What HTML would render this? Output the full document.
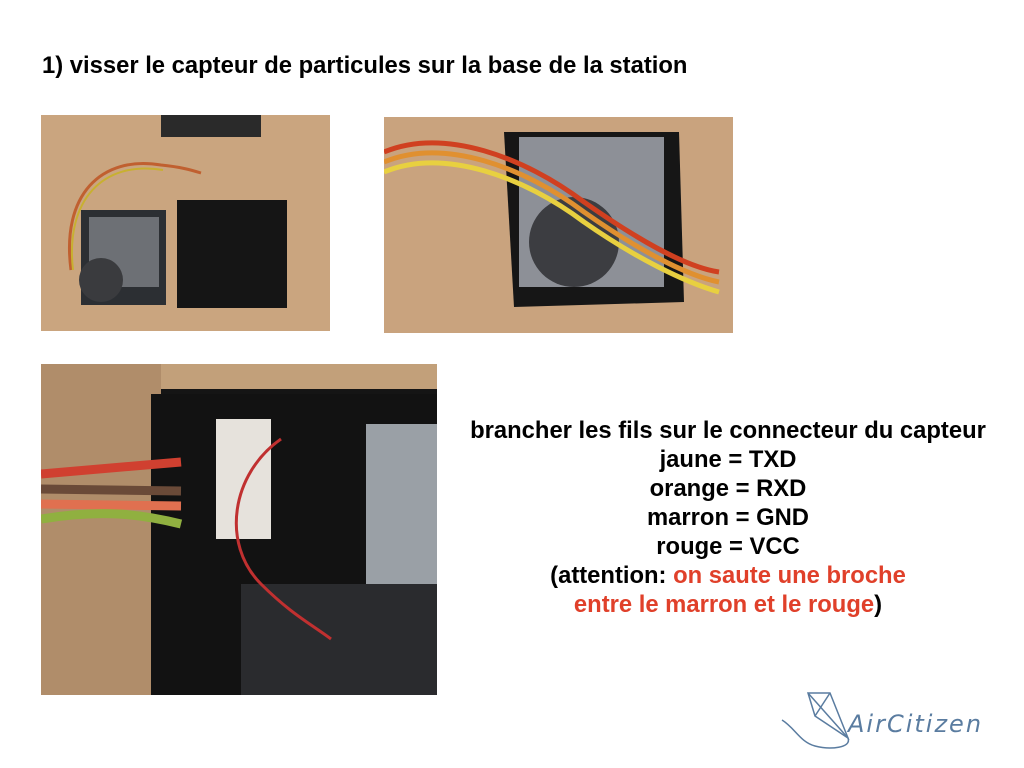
<!DOCTYPE html>
<html><head><meta charset="utf-8"><style>
body{margin:0;width:1024px;height:768px;background:#fff;position:relative;overflow:hidden;font-family:"Liberation Sans",sans-serif}
.t{position:absolute;left:42px;top:52px;font-size:23.8px;font-weight:bold;color:#000}
.p{position:absolute;overflow:hidden}
.txt{position:absolute;left:428px;top:416px;width:600px;text-align:center;font-size:23.8px;font-weight:bold;line-height:29px;color:#000}
.r{color:#e0402a}
</style></head><body>
<div class="t">1) visser le capteur de particules sur la base de la station</div>

<div class="p" style="left:41px;top:115px;width:289px;height:216px;background:#caa57f">
<svg width="289" height="216">
<rect x="120" y="0" width="100" height="22" fill="#2a2a2a"/>
<rect x="136" y="85" width="110" height="108" fill="#151515"/>
<rect x="40" y="95" width="85" height="95" fill="#2c2f33"/>
<rect x="48" y="102" width="70" height="70" fill="#6d7075"/>
<circle cx="60" cy="165" r="22" fill="#3a3b3e"/>
<path d="M30 155 C20 80 60 40 120 50 C140 52 150 55 160 58" stroke="#c06030" stroke-width="3" fill="none"/>
<path d="M32 155 C24 85 62 45 122 55" stroke="#c8b030" stroke-width="2" fill="none"/>
</svg></div>

<div class="p" style="left:384px;top:117px;width:349px;height:216px;background:#c9a37e">
<svg width="349" height="216">
<polygon points="120,15 295,15 300,185 130,190" fill="#161616"/>
<rect x="135" y="20" width="145" height="150" fill="#8d9097"/>
<circle cx="190" cy="125" r="45" fill="#3c3d41"/>
<path d="M0 35 C60 10 140 40 200 85 C250 120 300 150 335 155" stroke="#d04020" stroke-width="5" fill="none"/>
<path d="M0 45 C60 20 140 50 200 95 C250 130 300 158 335 165" stroke="#e09030" stroke-width="5" fill="none"/>
<path d="M0 55 C60 30 140 60 200 105 C250 140 300 165 335 175" stroke="#e8d040" stroke-width="5" fill="none"/>
</svg></div>

<div class="p" style="left:41px;top:364px;width:396px;height:331px;background:#151515">
<svg width="396" height="331">
<rect x="0" y="0" width="396" height="25" fill="#c2a07a"/>
<rect x="0" y="0" width="120" height="331" fill="#b08d6a"/>
<rect x="110" y="30" width="286" height="301" fill="#121212"/>
<rect x="175" y="55" width="55" height="120" fill="#e6e2dc"/>
<rect x="325" y="60" width="71" height="190" fill="#9aa0a6"/>
<rect x="200" y="220" width="196" height="111" fill="#2a2b2e"/>
<path d="M0 110 L140 98" stroke="#d04030" stroke-width="9"/>
<path d="M0 125 L140 127" stroke="#6a4a38" stroke-width="9"/>
<path d="M0 140 L140 142" stroke="#e07050" stroke-width="9"/>
<path d="M0 155 C60 145 100 150 140 160" stroke="#90b040" stroke-width="9" fill="none"/>
<path d="M240 75 C190 110 180 180 220 220 C250 250 270 260 290 275" stroke="#c03030" stroke-width="3" fill="none"/>
</svg></div>

<div class="txt">brancher les fils sur le connecteur du capteur<br>jaune = TXD<br>orange = RXD<br>marron = GND<br>rouge = VCC<br>(attention: <span class="r">on saute une broche<br>entre le marron et le rouge</span>)</div>

<svg style="position:absolute;left:770px;top:688px" width="250" height="65">
<g stroke="#5a7ca0" stroke-width="1.5" fill="none">
<polygon points="38,5 60,5 78,50 45,28"/>
<line x1="38" y1="5" x2="78" y2="50"/><line x1="60" y1="5" x2="45" y2="28"/>
<path d="M78 50 C82 60 60 62 45 58 C30 54 25 40 12 32"/>
</g>
<text x="78" y="44" font-family="DejaVu Sans,sans-serif" font-style="italic" font-size="24" fill="#5a7ca0" letter-spacing="2">AirCitizen</text>
</svg>
</body></html>
